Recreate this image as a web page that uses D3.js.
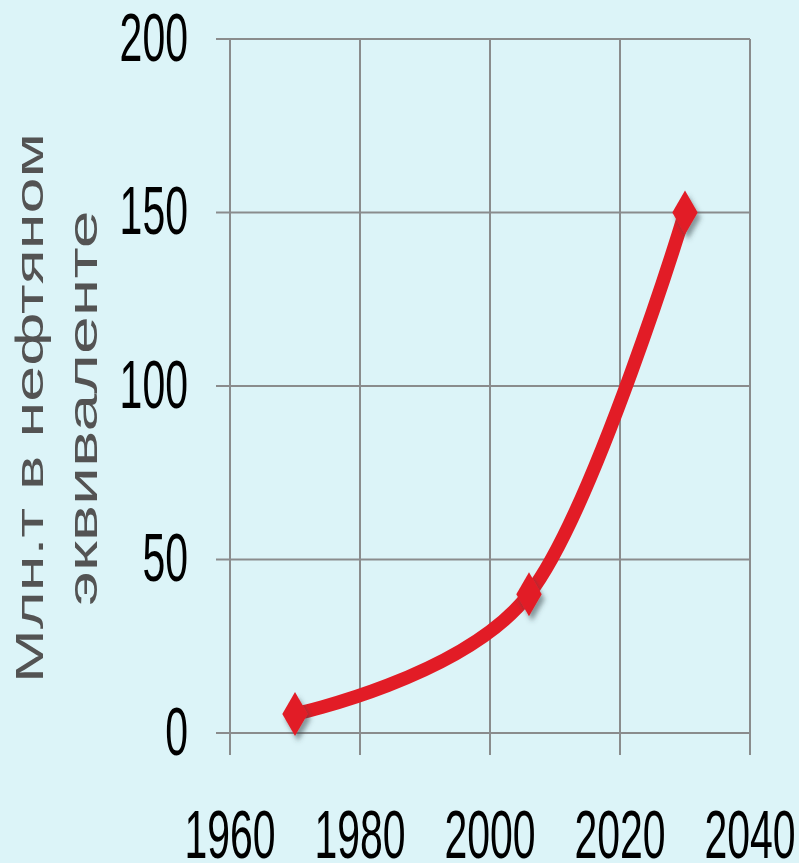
<!DOCTYPE html>
<html>
<head>
<meta charset="utf-8">
<script src="https://cdn.jsdelivr.net/npm/d3@7.9.0/dist/d3.min.js"></script>
<style>
  html, body { margin: 0; padding: 0; background: #dcf4f8; }
  svg { display: block; }
  text { font-family: "Liberation Sans", Arial, sans-serif; }
</style>
</head>
<body>
<svg id="chart" width="799" height="863"></svg>
<script>
// data
const years = [1970, 2006, 2030];
const values = [5.5, 40, 150];
const xTicks = [1960, 1980, 2000, 2020, 2040];
const yTicks = [0, 50, 100, 150, 200];
const titleLines = ['Млн.т в нефтяном', 'эквиваленте'];

const svg = d3.select('#chart');
const stretch = 1.66; // text in the picture is tall and narrow

const x = d3.scaleLinear().domain([1960, 2040]).range([230, 750]);
const y = d3.scaleLinear().domain([0, 200]).range([733, 39]);

// drop shadow for markers
const defs = svg.append('defs');
const f = defs.append('filter').attr('id', 'shadow')
  .attr('x', '-50%').attr('y', '-50%').attr('width', '200%').attr('height', '200%');
f.append('feDropShadow')
  .attr('dx', 3).attr('dy', 5).attr('stdDeviation', 2.5)
  .attr('flood-color', '#3a4a4e').attr('flood-opacity', 0.55);

svg.append('rect').attr('width', 799).attr('height', 863).attr('fill', '#dcf4f8');

// grid
const grid = svg.append('g').attr('stroke', '#8a8c8d').attr('stroke-width', 2);
grid.selectAll('.h').data(yTicks).join('line')
  .attr('x1', 216).attr('x2', x(2040))
  .attr('y1', d => y(d)).attr('y2', d => y(d));
grid.selectAll('.v').data(xTicks).join('line')
  .attr('x1', d => x(d)).attr('x2', d => x(d))
  .attr('y1', y(200)).attr('y2', 755);

// y tick labels
svg.append('g').selectAll('text').data(yTicks).join('text')
  .attr('transform', d => `translate(188,${y(d) - 3}) scale(1,${stretch})`)
  .attr('text-anchor', 'end')
  .attr('dy', '0.36em')
  .attr('font-size', 41)
  .attr('fill', '#000')
  .text(d => d);

// x tick labels
svg.append('g').selectAll('text').data(xTicks).join('text')
  .attr('transform', d => `translate(${x(d)},833) scale(1,${stretch})`)
  .attr('text-anchor', 'middle')
  .attr('dy', '0.36em')
  .attr('font-size', 41)
  .attr('fill', '#000')
  .text(d => d);

// axis title, two lines
const titleX = [43, 97];
titleLines.forEach((t, i) => {
  svg.append('text')
    .attr('transform', `translate(${titleX[i]},408) rotate(-90) scale(${stretch},1)`)
    .attr('text-anchor', 'middle')
    .attr('font-size', i === 0 ? 39 : 41)
    .attr('fill', '#535353')
    .text(t);
});

// line
const pts = years.map((yr, i) => [x(yr), y(values[i])]);
const line = d3.line().curve(d3.curveCardinal.tension(0));
svg.append('path')
  .attr('d', line(pts))
  .attr('fill', 'none')
  .attr('stroke', '#e21c26')
  .attr('stroke-width', 13.5)
  .attr('stroke-linecap', 'round');

// diamond markers
const diamond = d3.symbol().type(d3.symbolDiamond).size(560);
svg.append('g').selectAll('path').data(pts).join('path')
  .attr('d', diamond())
  .attr('transform', d => `translate(${d[0]},${d[1]})`)
  .attr('fill', '#e21c26')
  .attr('filter', 'url(#shadow)');
</script>
</body>
</html>
